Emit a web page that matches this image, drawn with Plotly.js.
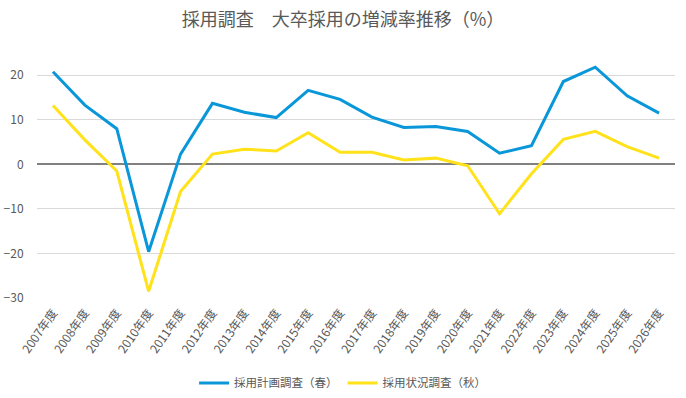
<!DOCTYPE html>
<html>
<head>
<meta charset="utf-8">
<script src="https://cdn.plot.ly/plotly-3.0.1.min.js"></script>
<style>html,body{margin:0;padding:0;background:#fff;}#chart{width:686px;height:398px;}</style>
</head>
<body>
<div id="chart"></div>
<script>
const years = ["2007年度","2008年度","2009年度","2010年度","2011年度","2012年度","2013年度","2014年度","2015年度","2016年度","2017年度","2018年度","2019年度","2020年度","2021年度","2022年度","2023年度","2024年度","2025年度","2026年度"];
const springPlan = [20.8,13.3,8.0,-19.6,2.3,13.7,11.7,10.5,16.6,14.6,10.6,8.3,8.5,7.4,2.5,4.2,18.6,21.8,15.4,11.5];
const autumnStatus = [13.2,5.5,-1.5,-28.5,-6.1,2.3,3.4,3.0,7.1,2.7,2.7,1.0,1.4,-0.3,-11.1,-2.1,5.6,7.4,4.0,1.4];
const seriesNames = ["採用計画調査（春）","採用状況調査（秋）"];
const yTicks = [-30,-20,-10,0,10,20];

const font = "'Noto Sans CJK JP', 'Noto Sans', sans-serif";
const traces = [
  {x: years, y: springPlan, name: seriesNames[0], type: "scatter", mode: "lines",
   line: {color: "#0A97D9", width: 3}},
  {x: years, y: autumnStatus, name: seriesNames[1], type: "scatter", mode: "lines",
   line: {color: "#FFE21A", width: 3}}
];
const layout = {
  width: 686, height: 398,
  margin: {l: 37, r: 11, t: 53, b: 100, autoexpand: false},
  paper_bgcolor: "#fff", plot_bgcolor: "#fff",
  font: {family: font, color: "#595959"},
  title: {text: "採用調査　大卒採用の増減率推移（%）", x: 0.5, xanchor: "center", y: 0.95, yanchor: "middle",
          font: {family: font, size: 18, color: "#595959"}},
  xaxis: {type: "category", range: [-0.5, 19.5], showgrid: false, zeroline: false, showline: false,
          automargin: false, ticks: "outside", ticklen: 2, tickcolor: "rgba(0,0,0,0)",
          tickangle: -55, tickfont: {size: 12, color: "#595959", family: font}},
  yaxis: {range: [-30, 25], tickvals: yTicks, showgrid: true, gridcolor: "#D9D9D9", gridwidth: 1,
          automargin: false,
          zeroline: true, zerolinecolor: "#808080", zerolinewidth: 2, showline: false,
          ticks: "outside", ticklen: 10, tickcolor: "rgba(0,0,0,0)",
          tickfont: {size: 12, color: "#595959", family: font}},
  showlegend: true,
  legend: {orientation: "h", x: 0.479, xanchor: "center", yref: "container", y: 0.038, yanchor: "middle",
           font: {size: 11.5, color: "#595959", family: font}, itemwidth: 30, tracegroupgap: 0},
  legendspacing: 0
};
delete layout.legendspacing;
Plotly.newPlot("chart", traces, layout, {displayModeBar: false, staticPlot: true});
</script>
</body>
</html>
